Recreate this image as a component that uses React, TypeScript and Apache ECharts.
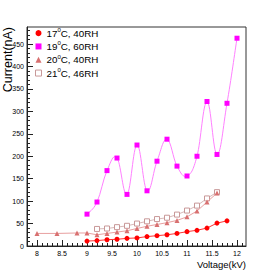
import React, { useEffect, useRef } from "react";
import * as echarts from "echarts";

const names = ["17°C, 40RH", "19°C, 60RH", "20°C, 40RH", "21°C, 46RH"];

const x17 = [9.0, 9.2, 9.4, 9.6, 9.8, 10.0, 10.2, 10.4, 10.6, 10.8, 11.0, 11.2, 11.4, 11.6, 11.8];
const y17 = [11, 12, 14, 15, 17, 18, 21, 23, 25, 28, 32, 35, 40, 51, 56];

const x19 = [9.0, 9.2, 9.4, 9.6, 9.8, 10.0, 10.2, 10.4, 10.6, 10.8, 11.0, 11.2, 11.4, 11.6, 11.8, 12.0];
const y19 = [71, 98, 168, 196, 115, 225, 123, 189, 238, 178, 156, 200, 322, 204, 318, 463];

const x20 = [8.0, 8.4, 8.8, 9.0, 9.2, 9.4, 9.6, 9.8, 10.0, 10.2, 10.4, 10.6, 10.8, 11.0, 11.2, 11.4, 11.6];
const y20 = [28, 28, 29, 29, 25, 28, 31, 34, 39, 44, 48, 52, 57, 65, 78, 98, 118];

const x21 = [9.2, 9.4, 9.6, 9.8, 10.0, 10.2, 10.4, 10.6, 10.8, 11.0, 11.2, 11.4, 11.6];
const y21 = [38, 39, 42, 45, 50, 55, 60, 63, 70, 79, 90, 106, 120];

const xTicks = [8, 8.5, 9, 9.5, 10, 10.5, 11, 11.5, 12];
const yTicks = [0, 50, 100, 150, 200, 250, 300, 350, 400, 450];

const X_MIN = 7.8;
const X_MAX = 12.18;
const Y_MIN = 0;
const Y_MAX = 488;

const zip = (xs: number[], ys: number[]) => xs.map((x, i) => [x, ys[i]]);

const xMinor: number[] = [];
for (let i = 79; i <= 121; i++) xMinor.push(i / 10);
const yMinor: number[] = [];
for (let v = 10; v <= 480; v += 10) yMinor.push(v);

const SANS = "'Liberation Sans', Arial, sans-serif";

// Cardinal spline through pixel points, as cubic Bezier path data
function splinePath(pts: number[][]): string {
  if (pts.length < 2) return "";
  const k = 1 / 5;
  let d = `M${pts[0][0]},${pts[0][1]}`;
  for (let i = 0; i < pts.length - 1; i++) {
    const p0 = pts[i - 1] || pts[i];
    const p1 = pts[i];
    const p2 = pts[i + 1];
    const p3 = pts[i + 2] || pts[i + 1];
    const c1x = p1[0] + (p2[0] - p0[0]) * k;
    const c1y = p1[1] + (p2[1] - p0[1]) * k;
    const c2x = p2[0] - (p3[0] - p1[0]) * k;
    const c2y = p2[1] - (p3[1] - p1[1]) * k;
    d += ` C${c1x},${c1y} ${c2x},${c2y} ${p2[0]},${p2[1]}`;
  }
  return d;
}

export default function App() {
  const ref = useRef<HTMLDivElement>(null);
  useEffect(() => {
    if (!ref.current) return;
    const chart = echarts.init(ref.current, undefined, { renderer: "svg" });
    const grid = { left: 27, top: 27, right: 27, bottom: 27, containLabel: false, outerBoundsMode: "none" };
    const option: any = {
      animation: false,
      backgroundColor: "#ffffff",
      grid: [
        { ...grid, show: true, borderColor: "#333", borderWidth: 1, backgroundColor: "transparent" },
        { ...grid, show: false },
      ],
      xAxis: [
        {
          type: "value",
          gridIndex: 0,
          min: X_MIN,
          max: X_MAX,
          axisLine: { show: true, onZero: false, lineStyle: { color: "#222", width: 1 } },
          axisTick: { show: true, inside: true, length: 6, customValues: xTicks, lineStyle: { color: "#222" } },
          axisLabel: {
            show: true,
            customValues: xTicks,
            margin: 4,
            fontSize: 7,
            color: "#000",
            fontFamily: SANS,
            formatter: (v: number) => String(v),
          },
          splitLine: { show: false },
        },
        {
          type: "value",
          gridIndex: 1,
          min: X_MIN,
          max: X_MAX,
          axisLine: { show: false, onZero: false },
          axisTick: { show: true, inside: true, length: 3, customValues: xMinor, lineStyle: { color: "#222" } },
          axisLabel: { show: false },
          splitLine: { show: false },
        },
      ],
      yAxis: [
        {
          type: "value",
          gridIndex: 0,
          min: Y_MIN,
          max: Y_MAX,
          axisLine: { show: true, onZero: false, lineStyle: { color: "#222", width: 1 } },
          axisTick: { show: true, inside: true, length: 6, customValues: yTicks, lineStyle: { color: "#222" } },
          axisLabel: {
            show: true,
            customValues: yTicks,
            margin: 3,
            fontSize: 7,
            color: "#000",
            fontFamily: SANS,
          },
          splitLine: { show: false },
        },
        {
          type: "value",
          gridIndex: 1,
          min: Y_MIN,
          max: Y_MAX,
          axisLine: { show: false, onZero: false },
          axisTick: { show: true, inside: true, length: 3, customValues: yMinor, lineStyle: { color: "#222" } },
          axisLabel: { show: false },
          splitLine: { show: false },
        },
      ],
      legend: {
        orient: "vertical",
        left: 35,
        top: 27,
        itemWidth: 6,
        itemHeight: 6,
        itemGap: 1,
        padding: 0,
        formatter: (name: string) => name.replace("°", "{sup|0}"),
        textStyle: {
          fontSize: 9.8,
          fontFamily: SANS,
          color: "#000",
          lineHeight: 12.3,
          rich: {
            sup: { fontSize: 6, fontFamily: SANS, color: "#000", padding: [0, 0, 6, 0] },
          },
        },
        data: [
          { name: names[0], icon: "circle", itemStyle: { color: "#ff0000" } },
          { name: names[1], icon: "rect", itemStyle: { color: "#ff00ff" } },
          { name: names[2], icon: "triangle", itemStyle: { color: "#d87070" } },
          {
            name: names[3],
            icon: "rect",
            itemStyle: { color: "#ffffff", borderColor: "#c89898", borderWidth: 1 },
          },
        ],
      },
      graphic: [
        {
          type: "text",
          x: 7.5,
          y: 27,
          rotation: Math.PI / 2,
          style: {
            text: "Current(nA)",
            align: "right",
            verticalAlign: "middle",
            fontSize: 12.5,
            fontFamily: SANS,
            fill: "#000",
          },
        },
        {
          type: "text",
          x: 246,
          y: 259,
          style: {
            text: "Voltage(kV)",
            align: "right",
            verticalAlign: "top",
            fontSize: 9.5,
            fontFamily: SANS,
            fill: "#000",
          },
        },
      ],
      series: [
        {
          name: names[1],
          type: "custom",
          xAxisIndex: 0,
          yAxisIndex: 0,
          data: [[x19[0], y19[0]]],
          encode: { x: 0, y: 1 },
          silent: true,
          z: 2,
          renderItem: (params: any, api: any) => {
            if (params.dataIndex !== 0) return null;
            const pts = x19.map((x, i) => api.coord([x, y19[i]]));
            return {
              type: "path",
              shape: { pathData: splinePath(pts) },
              style: { fill: "none", stroke: "#ff80ff", lineWidth: 1 },
            };
          },
        },
        {
          name: names[1],
          type: "line",
          xAxisIndex: 0,
          yAxisIndex: 0,
          data: zip(x19, y19),
          symbol: "rect",
          symbolSize: 5,
          itemStyle: { color: "#ff00ff" },
          lineStyle: { width: 0, opacity: 0 },
          z: 3,
        },
        {
          name: names[3],
          type: "line",
          xAxisIndex: 0,
          yAxisIndex: 0,
          data: zip(x21, y21),
          symbol: "rect",
          symbolSize: 5,
          itemStyle: { color: "#ffffff", borderColor: "#c89898", borderWidth: 1 },
          lineStyle: { color: "#d8b8b8", width: 1 },
          z: 4,
        },
        {
          name: names[2],
          type: "line",
          xAxisIndex: 0,
          yAxisIndex: 0,
          data: zip(x20, y20),
          symbol: "triangle",
          symbolSize: 5,
          itemStyle: { color: "#d87070" },
          lineStyle: { color: "#e8a0a0", width: 1 },
          z: 5,
        },
        {
          name: names[0],
          type: "line",
          xAxisIndex: 0,
          yAxisIndex: 0,
          data: zip(x17, y17),
          symbol: "circle",
          symbolSize: 5,
          itemStyle: { color: "#ff0000" },
          lineStyle: { color: "#ff3030", width: 1 },
          z: 6,
        },
      ],
    };
    chart.setOption(option);
    return () => chart.dispose();
  }, []);
  return (
    <div
      ref={ref}
      style={{ position: "fixed", left: 0, top: 0, width: 273, height: 273 }}
    />
  );
}
